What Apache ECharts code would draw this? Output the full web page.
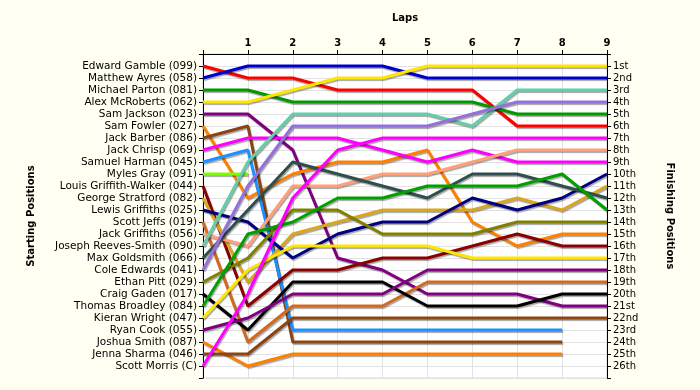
<!DOCTYPE html>
<html>
<head>
<meta charset="utf-8">
<script src="https://cdn.jsdelivr.net/npm/echarts@6/dist/echarts.min.js"></script>
<style>
html,body{margin:0;padding:0;background:#FFFFF2;}
#chart{width:700px;height:390px;}
</style>
</head>
<body>
<div id="chart"></div>
<script>
// Laps (x axis)
const laps = [0,1,2,3,4,5,6,7,8,9];
const lapTickLabels = ['', '1','2','3','4','5','6','7','8','9'];

// Starting grid (left axis, top to bottom)
const startNames = [
  'Edward Gamble (099)','Matthew Ayres (058)','Michael Parton (081)','Alex McRoberts (062)',
  'Sam Jackson (023)','Sam Fowler (027)','Jack Barber (086)','Jack Chrisp (069)',
  'Samuel Harman (045)','Myles Gray (091)','Louis Griffith-Walker (044)','George Stratford (082)',
  'Lewis Griffiths (025)','Scott Jeffs (019)','Jack Griffiths (056)','Joseph Reeves-Smith (090)',
  'Max Goldsmith (066)','Cole Edwards (041)','Ethan Pitt (029)','Craig Gaden (017)',
  'Thomas Broadley (084)','Kieran Wright (047)','Ryan Cook (055)','Joshua Smith (087)',
  'Jenna Sharma (046)','Scott Morris (C)'
];
// Finishing positions (right axis)
const finishLabels = ['1st','2nd','3rd','4th','5th','6th','7th','8th','9th','10th','11th','12th','13th',
  '14th','15th','16th','17th','18th','19th','20th','21st','22nd','23rd','24th','25th','26th'];

// Position of each driver at each lap (index = lap)
const edwardGamble      = [1,2,2,3,3,3,3,6,6,6];
const matthewAyres      = [2,1,1,1,1,2,2,2,2,2];
const michaelParton     = [3,3,4,4,4,4,4,5,5,5];
const alexMcRoberts     = [4,4,3,2,2,1,1,1,1,1];
const samJackson        = [5,5,8,17,18,20,20,20,21,21];
const samFowler         = [6,12,10,9,9,8,14,16,15,15];
const jackBarber        = [7,6,24,24,24,24,24,24,24];
const jackChrisp        = [8,7,7,7,8,9,8,9,9,9];
const samuelHarman      = [9,8,23,23,23,23,23,23,23];
const mylesGray         = [10,10];
const louisGriffithW    = [11,21,18,18,17,17,16,15,16,16];
const georgeStratford   = [12,19,15,14,13,13,13,12,13,11];
const lewisGriffiths    = [13,14,17,15,14,14,12,13,12,10];
const scottJeffs        = [14,24,21,21,21,19,19,19,19,19];
const jackGriffiths     = [15,16,11,11,10,10,9,8,8,8];
const josephReevesSmith = [16,9,5,5,5,5,6,3,3,3];
const maxGoldsmith      = [17,13,9,10,11,12,10,10,11,12];
const coleEdwards       = [18,11,6,6,6,6,5,4,4,4];
const ethanPitt         = [19,17,13,13,15,15,15,14,14,14];
const craigGaden        = [20,23,19,19,19,21,21,21,20,20];
const thomasBroadley    = [21,15,14,12,12,11,11,11,10,13];
const kieranWright      = [22,18,16,16,16,16,17,17,17,17];
const ryanCook          = [23,22,20,20,20,18,18,18,18,18];
const joshuaSmith       = [24,26,25,25,25,25,25,25,25];
const jennaSharma       = [25,25,22,22,22,22,22,22,22,22];
const scottMorris       = [26,20,12,8,7,7,7,7,7,7];

const driverPositions = [edwardGamble, matthewAyres, michaelParton, alexMcRoberts, samJackson,
  samFowler, jackBarber, jackChrisp, samuelHarman, mylesGray, louisGriffithW, georgeStratford,
  lewisGriffiths, scottJeffs, jackGriffiths, josephReevesSmith, maxGoldsmith, coleEdwards,
  ethanPitt, craigGaden, thomasBroadley, kieranWright, ryanCook, joshuaSmith, jennaSharma, scottMorris];

const lineColors = ['#FF0000','#0000CC','#009900','#FFE600','#800080','#FF8000','#8B4513','#FF00FF',
  '#1E90FF','#7CFC00','#8B0000','#DAA520','#000080','#D2691E','#FFA07A','#66CDAA','#2F4F4F',
  '#9370DB','#808000','#000000','#00A000','#FFE600','#800080','#FF8000','#8B4513','#FF00FF'];

const chart = echarts.init(document.getElementById('chart'));
const FONT = 'DejaVu Sans';

const series = driverPositions.map((arr, i) => ({
  name: startNames[i],
  type: 'line',
  data: arr.map((p, lap) => [laps[lap], p]),
  symbol: 'none',
  animation: false,
  lineStyle: {
    width: 3,
    color: lineColors[i],
    shadowColor: 'rgba(0,0,0,0.35)',
    shadowBlur: 1,
    shadowOffsetX: 1,
    shadowOffsetY: 1.5
  },
  z: 3
}));

const gridLine = {show: true, lineStyle: {color: '#E2E2E2', width: 1}};

chart.setOption({
  backgroundColor: '#FFFFF2',
  animation: false,
  grid: {left: 203, right: 93, top: 54, bottom: 12, show: true, backgroundColor: '#FFFFFF', borderColor: '#D8D8D8', borderWidth: 1},
  xAxis: [{
    type: 'value', position: 'top', min: 0, max: 9, interval: 1,
    name: 'Laps', nameLocation: 'middle', nameGap: 31,
    nameTextStyle: {fontFamily: FONT, fontSize: 10, fontWeight: 'bold', color: '#000'},
    axisLine: {show: true, onZero: false, lineStyle: {color: '#000', width: 1}},
    axisTick: {show: true, length: 4, lineStyle: {color: '#000'}},
    axisLabel: {fontFamily: FONT, fontSize: 10, fontWeight: 'bold', color: '#000', margin: 6,
      formatter: v => lapTickLabels[v] || ''},
    splitLine: gridLine
  }],
  yAxis: [{
    type: 'value', position: 'left', min: 0, max: 27, interval: 1, inverse: true,
    name: 'Starting Positions', nameLocation: 'middle', nameGap: 167, nameRotate: 90,
    nameTextStyle: {fontFamily: FONT, fontSize: 10, fontWeight: 'bold', color: '#000'},
    axisLine: {show: true, onZero: false, lineStyle: {color: '#000', width: 1}},
    axisTick: {show: true, length: 4, lineStyle: {color: '#000'}},
    axisLabel: {fontFamily: FONT, fontSize: 10.5, color: '#000', margin: 6,
      formatter: v => startNames[v - 1] || ''},
    splitLine: gridLine
  }, {
    type: 'value', position: 'right', min: 0, max: 27, interval: 1, inverse: true,
    name: 'Finishing Positions', nameLocation: 'middle', nameGap: 58, nameRotate: -90,
    nameTextStyle: {fontFamily: FONT, fontSize: 10, fontWeight: 'bold', color: '#000'},
    axisLine: {show: true, onZero: false, lineStyle: {color: '#000', width: 1}},
    axisTick: {show: true, length: 4, lineStyle: {color: '#000'}},
    axisLabel: {fontFamily: FONT, fontSize: 10, color: '#000', margin: 6,
      formatter: v => finishLabels[v - 1] || ''},
    splitLine: {show: false}
  }],
  series: series
});
</script>
</body>
</html>
